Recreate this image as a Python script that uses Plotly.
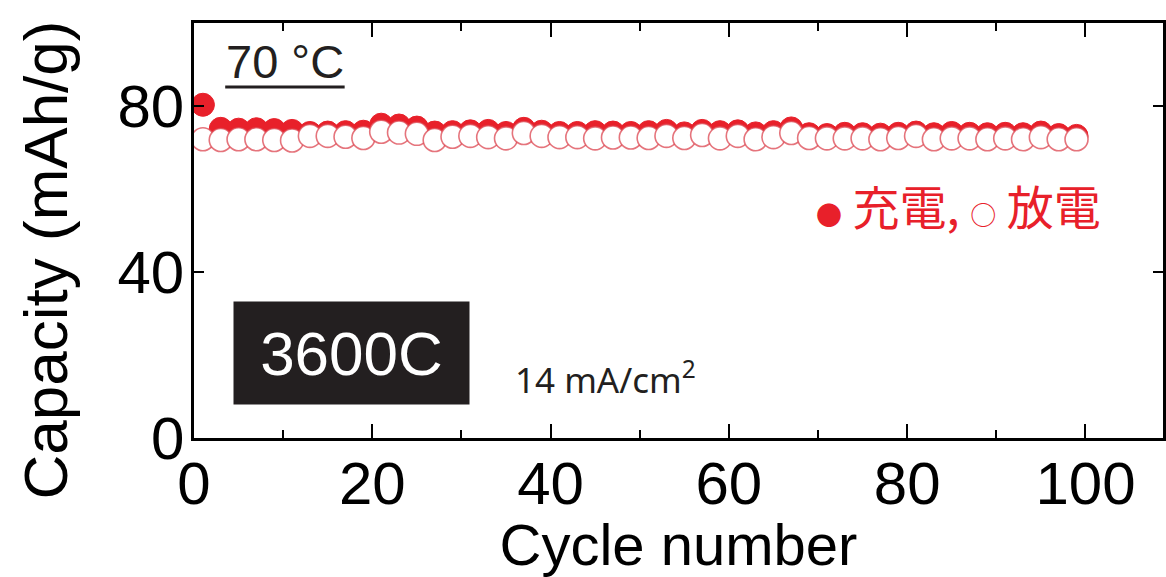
import plotly.graph_objects as go

# Cycle numbers (every other cycle is plotted)
cycles = list(range(1, 100, 2))

# Charge capacity (mAh/g), filled markers
charge = [80.3, 74.5, 74.3, 74.4, 74.2, 74.0, 73.5, 73.6, 73.7, 73.8,
          75.5, 75.3, 74.8, 73.6, 73.7, 73.9, 74.0, 73.5, 74.5, 73.8,
          73.5, 73.5, 73.7, 73.6, 73.5, 73.7, 74.0, 73.4, 74.0, 73.7,
          73.9, 73.4, 73.7, 74.6, 73.2, 73.0, 73.3, 73.2, 73.1, 73.3,
          73.6, 73.2, 73.5, 73.3, 73.2, 73.3, 73.2, 73.6, 73.0, 72.8]

# Discharge capacity (mAh/g), open markers
discharge = [72.0, 71.8, 72.0, 72.0, 71.8, 71.7, 72.8, 72.8, 72.6, 72.3,
             73.8, 73.6, 73.3, 71.8, 72.6, 72.8, 72.5, 72.2, 73.5, 72.8,
             72.5, 72.5, 72.2, 72.4, 72.4, 72.3, 72.8, 72.3, 73.0, 72.2,
             72.8, 72.0, 72.5, 73.5, 72.3, 72.2, 72.2, 72.2, 72.0, 72.3,
             72.8, 72.0, 72.2, 72.2, 72.0, 72.2, 72.0, 72.5, 72.0, 72.0]

x_ticks = [0, 20, 40, 60, 80, 100]
y_ticks = [0, 40, 80]

RED = "#e8202a"
INK = "#231f20"
FONT = "Liberation Sans, Arial, sans-serif"
CJK = "Noto Sans CJK JP, sans-serif"

fig = go.Figure()

fig.add_trace(go.Scatter(
    x=cycles, y=charge, mode="markers", name="充電",
    marker=dict(size=23, color=RED, line=dict(color=RED, width=1)),
))
fig.add_trace(go.Scatter(
    x=cycles, y=discharge, mode="markers", name="放電",
    marker=dict(size=23, color="white",
                line=dict(color="rgba(220,70,80,0.75)", width=1.6)),
))

fig.update_layout(
    width=1166, height=577,
    margin=dict(l=194, r=0, t=23, b=139),
    paper_bgcolor="white", plot_bgcolor="white",
    showlegend=False,
    font=dict(family=FONT, color="black"),
)

fig.update_xaxes(
    range=[0, 108.7], tickvals=x_ticks, ticks="inside", ticklen=14,
    tickwidth=2, tickcolor="black", showline=True, linewidth=2.5,
    linecolor="black", mirror="ticks", showgrid=False, zeroline=False,
    tickfont=dict(size=60, family=FONT), ticklabelstandoff=-9,
    minor=dict(tickvals=[10, 30, 50, 70, 90], ticks="inside", ticklen=8,
               tickwidth=2, tickcolor="black"),
    title=dict(text="Cycle number", font=dict(size=58, family=FONT), standoff=0),
)
fig.update_yaxes(
    range=[0, 100], tickvals=y_ticks, ticks="inside", ticklen=10,
    tickwidth=2, tickcolor="black", showline=True, linewidth=2.5,
    linecolor="black", mirror="ticks", showgrid=False, zeroline=False,
    tickfont=dict(size=60, family=FONT), ticklabelstandoff=-5,
)

# Y-axis title as a rotated annotation (paper coords relative to plot area)
fig.add_annotation(
    x=(45 - 194) / 972, y=(438 - 260) / 415, xref="paper", yref="paper",
    text="Capacity (mAh/g)", showarrow=False, textangle=-90,
    xanchor="center", yanchor="middle",
    font=dict(size=62, family=FONT, color="black"),
)

# Temperature label with a heavy underline
fig.add_annotation(
    x=3.4, y=90.7, xref="x", yref="y", text="70 °C", showarrow=False,
    xanchor="left", yanchor="middle", font=dict(size=47, family=FONT, color=INK),
)
fig.add_shape(type="line", xref="x", yref="y", x0=3.5, x1=16.9, y0=84.6, y1=84.6,
              line=dict(color=INK, width=3))

# Rate label in a black box
fig.add_annotation(
    x=17.7, y=20.5, xref="x", yref="y", text="3600C", showarrow=False,
    bgcolor=INK, width=235, height=102, borderpad=0,
    font=dict(size=62, family=FONT, color="white"),
)

# Current density
fig.add_annotation(
    x=35.8, y=14.5, xref="x", yref="y", text="14 mA/cm<sup>2</sup>", showarrow=False,
    xanchor="left", yanchor="middle",
    font=dict(size=35, family="Noto Sans, sans-serif", color=INK),
)

# Marker key
fig.add_annotation(
    x=69.6, y=56.3, xref="x", yref="y",
    text=("<span style='font-size:26px'>●</span> 充電,"
          " <span style='font-size:26px'>○</span> 放電"),
    showarrow=False, xanchor="left", yanchor="middle",
    font=dict(size=47, family=CJK, color=RED),
)

fig.write_html("out.html")
